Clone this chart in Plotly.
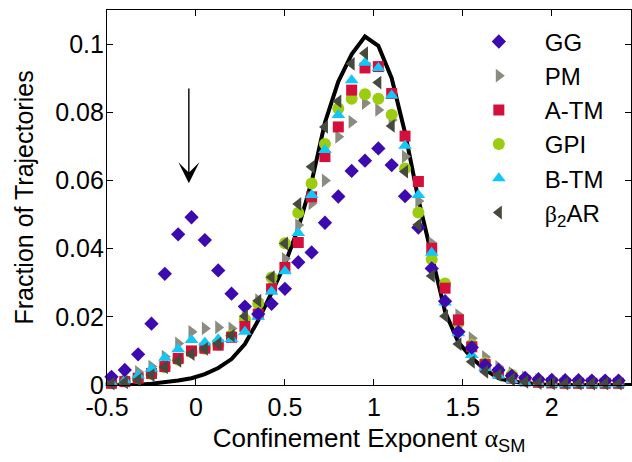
import plotly.graph_objects as go

# Bin centres of the confinement exponent histogram
alpha_bins = [-0.475, -0.4, -0.325, -0.25, -0.175, -0.1, -0.025, 0.05, 0.125, 0.2,
              0.275, 0.35, 0.425, 0.5, 0.575, 0.65, 0.725, 0.8, 0.875, 0.95,
              1.025, 1.1, 1.175, 1.25, 1.325, 1.4, 1.475, 1.55, 1.625, 1.7,
              1.775, 1.85, 1.925, 2.0, 2.075, 2.15, 2.225, 2.3, 2.375, 2.45]

# Fraction of trajectories per bin, one list per probe
gg = [0.0024, 0.0044, 0.0090, 0.0180, 0.0326, 0.0442, 0.0492, 0.0425, 0.0336, 0.0268,
      0.0230, 0.0208, 0.0238, 0.0282, 0.0360, 0.0389, 0.0476, 0.0553, 0.0628, 0.0658,
      0.0694, 0.0645, 0.0554, 0.0462, 0.0342, 0.0246, 0.0156, 0.0110, 0.0058, 0.0044,
      0.0027, 0.0021, 0.0017, 0.0015, 0.0014, 0.0014, 0.0013, 0.0013, 0.0013, 0.0013]
pm = [0.0009, 0.0018, 0.0038, 0.0054, 0.0083, 0.0122, 0.0156, 0.0166, 0.0169, 0.0166,
      0.0197, 0.0249, 0.0300, 0.0370, 0.0469, 0.0533, 0.0600, 0.0728, 0.0772, 0.0827,
      0.0807, 0.0777, 0.0670, 0.0540, 0.0416, 0.0290, 0.0205, 0.0137, 0.0082, 0.0053,
      0.0035, 0.0022, 0.0015, 0.0011, 0.0009, 0.0008, 0.0008, 0.0007, 0.0007, 0.0007]
a_tm = [0.0005, 0.0010, 0.0020, 0.0034, 0.0054, 0.0078, 0.0100, 0.0108, 0.0117, 0.0140,
        0.0172, 0.0208, 0.0282, 0.0345, 0.0418, 0.0552, 0.0670, 0.0757, 0.0865, 0.0930,
        0.0934, 0.0855, 0.0730, 0.0597, 0.0401, 0.0284, 0.0191, 0.0112, 0.0060, 0.0035,
        0.0020, 0.0012, 0.0008, 0.0006, 0.0005, 0.0005, 0.0005, 0.0005, 0.0005, 0.0005]
gpi = [0.0005, 0.0010, 0.0020, 0.0032, 0.0052, 0.0074, 0.0096, 0.0106, 0.0118, 0.0145,
       0.0193, 0.0238, 0.0315, 0.0416, 0.0505, 0.0591, 0.0707, 0.0811, 0.0840, 0.0853,
       0.0840, 0.0793, 0.0635, 0.0506, 0.0369, 0.0298, 0.0182, 0.0118, 0.0065, 0.0040,
       0.0030, 0.0018, 0.0010, 0.0008, 0.0007, 0.0006, 0.0006, 0.0006, 0.0006, 0.0006]
b_tm = [0.0006, 0.0014, 0.0028, 0.0048, 0.0080, 0.0105, 0.0132, 0.0125, 0.0134, 0.0135,
        0.0156, 0.0200, 0.0274, 0.0334, 0.0446, 0.0557, 0.0689, 0.0792, 0.0894, 0.0945,
        0.0930, 0.0849, 0.0702, 0.0557, 0.0388, 0.0242, 0.0152, 0.0088, 0.0050, 0.0028,
        0.0015, 0.0008, 0.0005, 0.0003, 0.0002, 0.0002, 0.0002, 0.0002, 0.0002, 0.0002]
b2ar = [0.0004, 0.0008, 0.0015, 0.0029, 0.0052, 0.0071, 0.0091, 0.0106, 0.0121, 0.0145,
        0.0202, 0.0247, 0.0316, 0.0415, 0.0531, 0.0640, 0.0757, 0.0832, 0.0942, 0.0973,
        0.0887, 0.0760, 0.0626, 0.0470, 0.0320, 0.0202, 0.0120, 0.0068, 0.0039, 0.0029,
        0.0016, 0.0009, 0.0006, 0.0005, 0.0004, 0.0004, 0.0004, 0.0004, 0.0004, 0.0004]
# Simulated free-diffusion distribution (solid line)
model = [0.0000, 0.0000, 0.0001, 0.0004, 0.0008, 0.0013, 0.0020, 0.0032, 0.0050, 0.0076,
         0.0120, 0.0190, 0.0270, 0.0355, 0.0460, 0.0596, 0.0770, 0.0890, 0.0970, 0.1022,
         0.0995, 0.0900, 0.0740, 0.0545, 0.0380, 0.0215, 0.0125, 0.0080, 0.0045, 0.0020,
         0.0010, 0.0005, 0.0002, 0.0000, 0.0000, 0.0000, 0.0000, 0.0000, 0.0000, 0.0000]

x_ticks = [-0.5, 0, 0.5, 1, 1.5, 2]
x_tick_text = ["-0.5", "0", "0.5", "1", "1.5", "2"]
y_ticks = [0, 0.02, 0.04, 0.06, 0.08, 0.1]
y_tick_text = ["0", "0.02", "0.04", "0.06", "0.08", "0.1"]

FONT = "Liberation Sans, Arial, sans-serif"
SERIF = "Liberation Serif"

fig = go.Figure()

fig.add_trace(go.Scatter(x=alpha_bins, y=model, mode="lines",
                         line=dict(color="black", width=4), showlegend=False,
                         cliponaxis=False))

# name, values, symbol, colour, size, legend position
series = [
    ("PM", pm, "triangle-right", "#8b8c80", 12, 2),
    ("GPI", gpi, "circle", "#9ccc10", 12, 4),
    ("A-TM", a_tm, "square", "#d40f3c", 11, 3),
    ("B-TM", b_tm, "triangle-up", "#10c8f8", 12, 5),
    ("GG", gg, "diamond", "#3c0aae", 11, 1),
    (f"<span style=\"font-family:{SERIF}\">β</span><sub>2</sub>AR", b2ar,
     "triangle-left", "#454a3c", 12, 6),
]
for name, vals, sym, col, size, rank in series:
    fig.add_trace(go.Scatter(
        x=alpha_bins, y=vals, mode="markers", name=name, legendrank=rank,
        marker=dict(symbol=sym, color=col, size=size, line=dict(width=0)),
        cliponaxis=False))

fig.add_annotation(x=-0.04, y=0.0592, ax=-0.04, ay=0.0874, xref="x", yref="y",
                   axref="x", ayref="y", text="", showarrow=True,
                   arrowhead=3, arrowwidth=1.4, arrowsize=2.5, arrowcolor="black")

axis_common = dict(showline=True, linecolor="black", linewidth=1.2, mirror="ticks",
                   ticks="inside", ticklen=6, tickwidth=1, tickcolor="black",
                   showgrid=False, zeroline=False,
                   tickfont=dict(family=FONT, size=25, color="black"))

fig.update_xaxes(range=[-0.5, 2.445], tickvals=x_ticks, ticktext=x_tick_text,
                 title=dict(text=f"Confinement Exponent <span style=\"font-family:{SERIF}\">α</span><sub>SM</sub>",
                            font=dict(family=FONT, size=26, color="black"), standoff=8),
                 **axis_common)
fig.update_yaxes(range=[0, 0.11], tickvals=y_ticks, ticktext=y_tick_text,
                 ticklabelstandoff=-3,
                 title=dict(text="Fraction of Trajectories",
                            font=dict(family=FONT, size=25, color="black"), standoff=14),
                 **axis_common)

fig.update_layout(
    width=632, height=462,
    margin=dict(l=107, r=1, t=10, b=77),
    paper_bgcolor="white", plot_bgcolor="white",
    font=dict(family=FONT, size=25, color="black"),
    legend=dict(x=0.66, y=0.975, xanchor="left", yanchor="top",
                bgcolor="rgba(0,0,0,0)", borderwidth=0,
                font=dict(family=FONT, size=24, color="black"),
                itemwidth=82),
)

fig.write_html("out.html")
